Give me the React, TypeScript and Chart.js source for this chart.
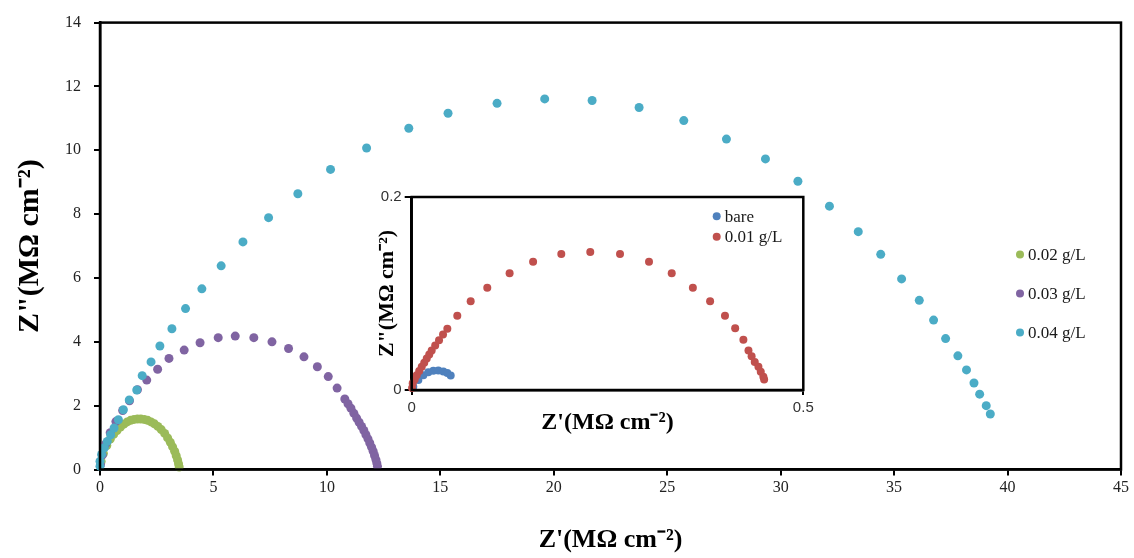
import { useEffect, useRef } from "react";
import { Chart, registerables } from "chart.js";

Chart.register(...registerables);

// ---------- main chart data ----------
const mainLabels = ["0.02 g/L", "0.03 g/L", "0.04 g/L"];
const mainColors = ["#9BBB59", "#8064A2", "#4BACC6"];

const g02X = [0.05, 0.15, 0.3, 0.45, 0.6, 0.75, 0.9, 1.05, 1.2, 1.35, 1.5, 1.65, 1.8, 1.95, 2.1, 2.25, 2.4, 2.55, 2.7, 2.85, 2.98, 3.1, 3.2, 3.29, 3.36, 3.42, 3.46, 3.49];
const g02Y = [0.25, 0.5, 0.75, 0.95, 1.1, 1.22, 1.33, 1.42, 1.49, 1.54, 1.57, 1.58, 1.58, 1.57, 1.54, 1.49, 1.43, 1.35, 1.25, 1.13, 0.99, 0.85, 0.71, 0.57, 0.43, 0.3, 0.18, 0.08];

const g03X = [0.02, 0.1, 0.25, 0.45, 0.7, 1.0, 1.3, 1.65, 2.06, 2.54, 3.04, 3.71, 4.41, 5.21, 5.96, 6.78, 7.58, 8.31, 8.99, 9.58, 10.06, 10.45, 10.79, 10.93, 11.06, 11.19, 11.31, 11.42, 11.53, 11.63, 11.72, 11.81, 11.89, 11.97, 12.04, 12.1, 12.16, 12.2, 12.23];
const g03Y = [0.15, 0.45, 0.8, 1.15, 1.5, 1.85, 2.15, 2.5, 2.8, 3.14, 3.48, 3.74, 3.97, 4.13, 4.18, 4.13, 4.0, 3.79, 3.53, 3.22, 2.91, 2.55, 2.21, 2.06, 1.92, 1.76, 1.61, 1.48, 1.35, 1.22, 1.09, 0.96, 0.83, 0.7, 0.57, 0.44, 0.31, 0.2, 0.1];

const g04X = [0.0, 0.0, 0.07, 0.19, 0.32, 0.47, 0.62, 0.81, 1.03, 1.29, 1.62, 1.86, 2.25, 2.64, 3.17, 3.77, 4.49, 5.34, 6.3, 7.43, 8.72, 10.16, 11.75, 13.61, 15.34, 17.5, 19.6, 21.69, 23.76, 25.73, 27.61, 29.33, 30.76, 32.15, 33.42, 34.41, 35.33, 36.11, 36.74, 37.27, 37.81, 38.19, 38.52, 38.77, 39.06, 39.24];
const g04Y = [0.1, 0.26, 0.47, 0.68, 0.88, 1.09, 1.3, 1.56, 1.87, 2.18, 2.49, 2.94, 3.37, 3.87, 4.41, 5.04, 5.66, 6.38, 7.13, 7.89, 8.64, 9.4, 10.07, 10.69, 11.16, 11.47, 11.61, 11.56, 11.34, 10.93, 10.35, 9.73, 9.03, 8.25, 7.45, 6.74, 5.97, 5.3, 4.68, 4.1, 3.56, 3.12, 2.71, 2.36, 2.0, 1.74];

const mainXTicks = { min: 0, max: 45, step: 5 };
const mainYTicks = { min: 0, max: 14, step: 2 };

// ---------- inset data ----------
const insetLabels = ["bare", "0.01 g/L"];
const insetColors = ["#4F81BD", "#C0504D"];

const bareX = [0.002, 0.0085, 0.0149, 0.0212, 0.0276, 0.034, 0.0404, 0.0455, 0.0498];
const bareY = [0.0034, 0.0103, 0.0154, 0.0185, 0.0199, 0.0203, 0.0192, 0.0175, 0.0151];

const g01X = [0.0005, 0.0013, 0.0038, 0.0064, 0.0096, 0.0128, 0.016, 0.0192, 0.0224, 0.0255, 0.03, 0.0349, 0.04, 0.0455, 0.0582, 0.0753, 0.0965, 0.125, 0.155, 0.191, 0.228, 0.266, 0.303, 0.332, 0.359, 0.381, 0.4, 0.413, 0.4235, 0.43, 0.434, 0.438, 0.4427, 0.4457, 0.449, 0.45];
const g01Y = [0.002, 0.0069, 0.011, 0.0154, 0.0197, 0.024, 0.0283, 0.0326, 0.0368, 0.041, 0.0462, 0.0515, 0.0575, 0.0635, 0.077, 0.092, 0.106, 0.121, 0.133, 0.141, 0.143, 0.141, 0.133, 0.121, 0.106, 0.092, 0.077, 0.064, 0.052, 0.041, 0.035, 0.029, 0.024, 0.0188, 0.0137, 0.011];

const insetXTicks = { min: 0, max: 0.5, step: 0.5 };
const insetYTicks = { min: 0, max: 0.2, step: 0.2 };

const xTitle = "Z'(MΩ cm⁻²)";
const yTitle = 'Z"(MΩ cm⁻²)';

const SERIF = "'Liberation Serif', 'Times New Roman', serif";
const SANS = "'Liberation Sans', Arial, sans-serif";

const pts = (xs: number[], ys: number[]) => xs.map((x, i) => ({ x, y: ys[i] }));

const framePlugin = {
  id: "frame",
  beforeDraw(chart: any, _a: any, opts: any) {
    if (opts && opts.fill) {
      const { left, top, right, bottom } = chart.chartArea;
      const ctx = chart.ctx;
      ctx.save();
      ctx.fillStyle = opts.fill;
      ctx.fillRect(left, top, right - left, bottom - top);
      ctx.restore();
    }
  },
  afterDraw(chart: any, _a: any, opts: any) {
    const { left, top, right, bottom } = chart.chartArea;
    const ctx = chart.ctx;
    ctx.save();
    ctx.strokeStyle = "#000";
    ctx.lineWidth = (opts && opts.width) || 2.5;
    ctx.strokeRect(left, top, right - left, bottom - top);
    ctx.restore();
  },
};

const dotLegendPlugin = {
  id: "dotLegend",
  afterDraw(chart: any, _a: any, opts: any) {
    const ctx = chart.ctx;
    const { right, top } = chart.chartArea;
    ctx.save();
    ctx.font = opts.font;
    ctx.textBaseline = "middle";
    ctx.textAlign = "left";
    chart.data.datasets.forEach((ds: any, i: number) => {
      const x = right + opts.dx;
      const y = top + opts.dy + i * opts.step;
      ctx.beginPath();
      ctx.fillStyle = ds.backgroundColor;
      ctx.arc(x, y, opts.r, 0, Math.PI * 2);
      ctx.fill();
      ctx.fillStyle = "#1a1a1a";
      ctx.fillText(ds.label, x + opts.gap, y + 1);
    });
    ctx.restore();
  },
};

function axisCommon(tickLength: number) {
  return {
    type: "linear" as const,
    grid: { display: true, drawOnChartArea: false, drawTicks: true, tickLength, color: "#000", lineWidth: 2 },
    border: { display: true, color: "#000", width: 2.5 },
  };
}

export default function App() {
  const mainRef = useRef<HTMLCanvasElement | null>(null);
  const insetRef = useRef<HTMLCanvasElement | null>(null);

  useEffect(() => {
    document.body.style.margin = "0";
    const mainChart = new Chart(mainRef.current as HTMLCanvasElement, {
      type: "scatter",
      data: {
        datasets: [
          { label: mainLabels[0], data: pts(g02X, g02Y), backgroundColor: mainColors[0], borderColor: mainColors[0], order: 3 },
          { label: mainLabels[1], data: pts(g03X, g03Y), backgroundColor: mainColors[1], borderColor: mainColors[1], order: 2 },
          { label: mainLabels[2], data: pts(g04X, g04Y), backgroundColor: mainColors[2], borderColor: mainColors[2], order: 1 },
        ].map((d) => ({ ...d, pointRadius: 4.5, pointBorderWidth: 0, pointHoverRadius: 4.5, clip: false })) as any,
      },
      options: {
        animation: false,
        responsive: false,
        events: [],
        layout: { padding: { left: 0, top: 20, right: 13, bottom: 0 } },
        plugins: {
          legend: { display: false },
          tooltip: { enabled: false },
          frame: { width: 2.5 },
          dotLegend: { dx: -101, dy: 232, step: 39, r: 4, gap: 8, font: `17px ${SERIF}` },
        } as any,
        scales: {
          x: {
            ...axisCommon(6),
            min: mainXTicks.min,
            max: mainXTicks.max,
            ticks: { font: { family: SERIF, size: 16 }, color: "#222", padding: 3, stepSize: mainXTicks.step },
            title: { display: true, text: xTitle, color: "#000", font: { family: SERIF, size: 26, weight: "bold" }, padding: { top: 0, bottom: 2 } },
            afterFit: (s: any) => { s.height = 88.5; },
          },
          y: {
            ...axisCommon(6),
            min: mainYTicks.min,
            max: mainYTicks.max,
            ticks: { font: { family: SERIF, size: 16 }, color: "#222", padding: 13, stepSize: mainYTicks.step },
            title: { display: true, text: yTitle, color: "#000", font: { family: SERIF, size: 30, weight: "bold" }, padding: { top: 12, bottom: 0 } },
            afterFit: (s: any) => { s.width = 100; },
          },
        } as any,
      },
      plugins: [framePlugin, dotLegendPlugin] as any,
    });

    const insetChart = new Chart(insetRef.current as HTMLCanvasElement, {
      type: "scatter",
      data: {
        datasets: [
          { label: insetLabels[0], data: pts(bareX, bareY), backgroundColor: insetColors[0], borderColor: insetColors[0], order: 2 },
          { label: insetLabels[1], data: pts(g01X, g01Y), backgroundColor: insetColors[1], borderColor: insetColors[1], order: 1 },
        ].map((d) => ({ ...d, pointRadius: 4, pointBorderWidth: 0, pointHoverRadius: 4, clip: false })) as any,
      },
      options: {
        animation: false,
        responsive: false,
        events: [],
        layout: { padding: { left: 0, top: 10.7, right: 26.7, bottom: 0 } },
        plugins: {
          legend: { display: false },
          tooltip: { enabled: false },
          frame: { width: 2.5, fill: "#ffffff" },
          dotLegend: { dx: -86.6, dy: 19.3, step: 20.5, r: 4, gap: 8, font: `17px ${SERIF}` },
        } as any,
        scales: {
          x: {
            ...axisCommon(5),
            min: insetXTicks.min,
            max: insetXTicks.max,
            ticks: { font: { family: SANS, size: 15 }, color: "#333", padding: 4, stepSize: insetXTicks.step },
            title: { display: true, text: xTitle, color: "#000", font: { family: SERIF, size: 24, weight: "bold" }, padding: { top: 0, bottom: 3 } },
            afterFit: (s: any) => { s.height = 50; },
          },
          y: {
            ...axisCommon(7),
            min: insetYTicks.min,
            max: insetYTicks.max,
            ticks: { font: { family: SANS, size: 15 }, color: "#333", padding: 3, stepSize: insetYTicks.step },
            title: { display: true, text: yTitle, color: "#000", font: { family: SERIF, size: 22, weight: "bold" }, padding: { top: 13.8, bottom: 0 } },
            afterFit: (s: any) => { s.width = 51.7; },
          },
        } as any,
      },
      plugins: [framePlugin, dotLegendPlugin] as any,
    });

    return () => {
      mainChart.destroy();
      insetChart.destroy();
    };
  }, []);

  return (
    <div style={{ position: "fixed", left: 0, top: 0, width: 1134, height: 558, background: "#fff" }}>
      <canvas ref={mainRef} width={1134} height={558} style={{ position: "absolute", left: 0, top: 0 }} />
      <canvas ref={insetRef} width={470} height={255} style={{ position: "absolute", left: 360, top: 185 }} />
    </div>
  );
}
